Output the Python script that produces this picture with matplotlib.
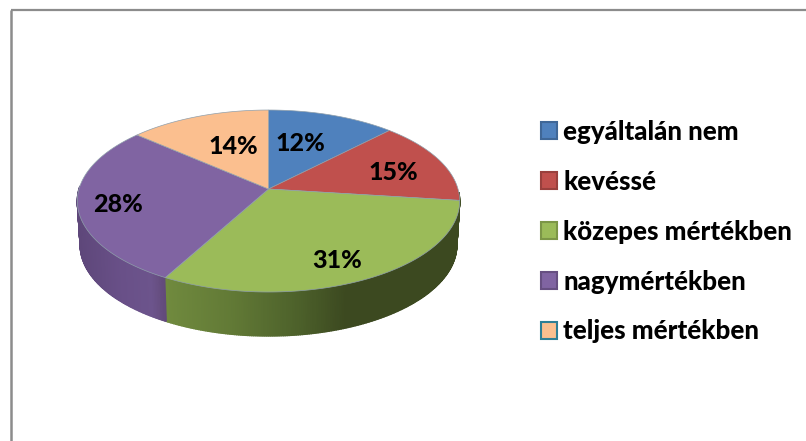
"""3D style pie chart with a legend on the right."""

import matplotlib

matplotlib.use("Agg")

import matplotlib.pyplot as plt
import numpy as np
from matplotlib.patches import Patch, Polygon

categories = [
    "egyáltalán nem",
    "kevéssé",
    "közepes mértékben",
    "nagymértékben",
    "teljes mértékben",
]
shares = [12.3, 14.7, 31, 28.4, 13.6]
labels = ["12%", "15%", "31%", "28%", "14%"]

top_colors = ["#4f81bd", "#c0504d", "#9bbb59", "#8064a2", "#fbbf8f"]
legend_edges = ["#3f6797", "#99403d", "#7c9647", "#664f81", "#2f7f95"]
edge_color = "#8f9fab"

# Pie projection, in pixels of the 806x441 figure.
CX, CY = 268.5, 189
RX, RY = 189.5, 89.4
PERSP = 0.132
DEPTH = 44
WALL_SHRINK = 0.985


def project(theta_deg, radius=1.0, drop=0.0, shrink=1.0):
    """Angle clockwise from 12 o'clock to pixel coordinates."""
    t = np.radians(theta_deg)
    u = radius * np.sin(t)
    v = radius * np.cos(t)
    den = 1 + PERSP * v
    return CX + shrink * RX * u / den, CY - RY * v / den + drop


def wall_color(x):
    """Shading of the side wall by horizontal position."""
    stops_x = [77, 120, 150, 164, 165, 230, 300, 345, 461]
    reds = [0x5e, 0x69, 0x6c, 0x62, 0x70, 0x62, 0x4c, 0x3c, 0x3c]
    greens = [0x47, 0x50, 0x54, 0x4a, 0x8a, 0x7a, 0x60, 0x49, 0x49]
    blues = [0x7a, 0x88, 0x8c, 0x7a, 0x3e, 0x36, 0x2a, 0x20, 0x20]
    return (
        np.interp(x, stops_x, reds) / 255,
        np.interp(x, stops_x, greens) / 255,
        np.interp(x, stops_x, blues) / 255,
    )


fig = plt.figure(figsize=(8.06, 4.41), dpi=100)
ax = fig.add_axes([0, 0, 1, 1])
ax.set_xlim(0, 806)
ax.set_ylim(441, 0)
ax.axis("off")

# Outer frame: only the top and left lines are visible.
ax.plot([11, 806], [10, 10], color="#8c8c8c", lw=1.6, solid_capstyle="butt")
ax.plot([11, 11], [10, 441], color="#8c8c8c", lw=1.8, solid_capstyle="butt")

edges = np.concatenate([[0], np.cumsum(shares)]) * 3.6

# Side wall, front half only (right edge round to left edge).
for a, b in zip(np.arange(92, 272, 0.5), np.arange(92.5, 272.5, 0.5)):
    x0, y0 = project(a)
    x1, y1 = project(b)
    x2, y2 = project(b, drop=DEPTH, shrink=WALL_SHRINK)
    x3, y3 = project(a, drop=DEPTH, shrink=WALL_SHRINK)
    color = wall_color((x0 + x1) / 2)
    ax.add_patch(
        Polygon(
            [(x0, y0), (x1, y1), (x2, y2), (x3, y3)],
            closed=True,
            facecolor=color,
            edgecolor=color,
            lw=1.0,
        )
    )

# Top face.
for start, end, color in zip(edges[:-1], edges[1:], top_colors):
    theta = np.linspace(start, end, 120)
    xs, ys = project(theta)
    pts = np.column_stack([np.r_[CX, xs], np.r_[CY, ys]])
    ax.add_patch(
        Polygon(pts, closed=True, facecolor=color, edgecolor=edge_color, lw=0.5)
    )

# Percentage labels, placed along each slice's middle angle.
label_radius = [0.54, 0.72, 0.78, 0.79, 0.52]
label_shift = [(-4, -4), (0, 4), (-5, 3), (0, 3), (3, -3)]
mids = (edges[:-1] + edges[1:]) / 2
for mid, text, r, (dx, dy) in zip(mids, labels, label_radius, label_shift):
    x, y = project(mid, radius=r)
    ax.text(
        x + dx,
        y + dy,
        text,
        family="Lato",
        weight=900,
        fontsize=18,
        color="black",
        ha="center",
        va="center",
    )

handles = [
    Patch(facecolor=c, edgecolor=e, lw=1.5) for c, e in zip(top_colors, legend_edges)
]
legend = ax.legend(
    handles,
    categories,
    loc="upper left",
    bbox_to_anchor=(541 / 806, 1 - 120 / 441),
    frameon=False,
    prop={"family": "Lato", "weight": 900, "size": 18.6},
    handlelength=0.63,
    handleheight=0.63,
    handletextpad=0.24,
    labelspacing=1.0,
    borderpad=0,
    borderaxespad=0,
)

fig.savefig("out.png", dpi=100)
